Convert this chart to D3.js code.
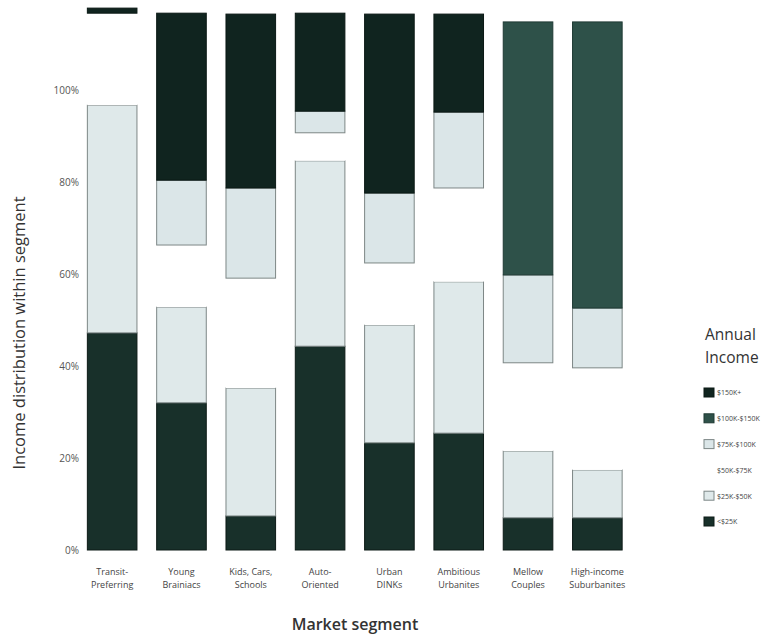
<!DOCTYPE html>
<html>
<head>
<meta charset="utf-8">
<script src="https://cdn.jsdelivr.net/npm/d3@7"></script>
<style>
  body { margin: 0; background: #fff; }
  svg { display: block; font-family: "Open Sans", "Noto Sans", sans-serif; }
</style>
</head>
<body>
<svg id="chart" width="763" height="639"></svg>
<script>
// market segments (two-line labels)
const segments = [
  ['Transit-', 'Preferring'],
  ['Young', 'Brainiacs'],
  ['Kids, Cars,', 'Schools'],
  ['Auto-', 'Oriented'],
  ['Urban', 'DINKs'],
  ['Ambitious', 'Urbanites'],
  ['Mellow', 'Couples'],
  ['High-income', 'Suburbanites']
];

// income bands, bottom of stack first
const bands = ['<$25K', '$25K-$50K', '$50K-$75K', '$75K-$100K', '$100K-$150K', '$150K+'];

// share of each band per segment (axis units)
const under25 = [47.2, 32.0, 7.4, 44.3, 23.3, 25.4, 7.0, 7.0];
const k25to50 = [49.5, 20.8, 27.8, 40.3, 25.6, 32.9, 14.5, 10.4];
const k50to75 = [20.0, 13.5, 23.9, 6.1, 13.5, 20.4, 19.2, 22.2];
const k75to100 = [0, 14.1, 19.6, 4.7, 15.2, 16.5, 19.1, 13.0];
const k100to150 = [0, 0, 0, 0, 0, 0, 55.0, 62.2];
const k150plus = [1.1, 36.3, 37.8, 21.3, 38.9, 21.3, 0, 0];

const yTicks = [0, 20, 40, 60, 80, 100];

const series = [under25, k25to50, k50to75, k75to100, k100to150, k150plus];
const colors = ['#18302a', '#dfe9ea', '#ffffff', '#dbe6e8', '#2e5149', '#10241f'];
const strokes = ['#0c1a16', '#7d8786', 'none', '#7d8786', '#1f3a34', '#0a1814'];

const svg = d3.select('#chart');

const rows = segments.map((s, i) => {
    const r = { key: i };
    bands.forEach((b, j) => r[b] = series[j][i]);
    return r;
});

const stack = d3.stack().keys(bands);
const layers = stack(rows);

const x = d3.scaleBand()
    .domain(d3.range(segments.length))
    .range([77.5, 632])
    .paddingInner(0.27)
    .paddingOuter(0.135);

const y = d3.scaleLinear()
    .domain([0, 100])
    .range([550, 90]);

// bars
svg.append('g')
    .selectAll('g.layer')
    .data(layers)
    .join('g')
        .attr('class', 'layer')
        .attr('fill', (d, i) => colors[i])
        .attr('stroke', (d, i) => strokes[i])
        .attr('stroke-width', 1)
    .selectAll('rect')
    .data(d => d.filter(p => p[1] - p[0] > 0))
    .join('rect')
        .attr('x', d => x(d.data.key) + 0.5)
        .attr('width', x.bandwidth() - 1)
        .attr('y', d => y(d[1]))
        .attr('height', d => y(d[0]) - y(d[1]));

// y tick labels (no axis line)
const yAxis = svg.append('g')
    .attr('transform', 'translate(79,0)')
    .call(d3.axisLeft(y).tickValues(yTicks).tickFormat(d => d + '%').tickSize(0).tickPadding(0));
yAxis.select('.domain').remove();
yAxis.selectAll('text')
    .attr('font-family', '"Open Sans", sans-serif')
    .attr('font-size', 10)
    .attr('fill', '#555');

// x labels
const xLabels = svg.append('g')
    .selectAll('text')
    .data(segments)
    .join('text')
        .attr('text-anchor', 'middle')
        .attr('font-size', 9)
        .attr('fill', '#444')
        .attr('transform', (d, i) => `translate(${x(i) + x.bandwidth() / 2},575)`);
xLabels.append('tspan').attr('x', 0).attr('dy', 0).text(d => d[0]);
xLabels.append('tspan').attr('x', 0).attr('dy', 13).text(d => d[1]);

// axis titles
svg.append('text')
    .attr('x', 355)
    .attr('y', 630)
    .attr('text-anchor', 'middle')
    .attr('font-size', 16)
    .attr('font-weight', 600)
    .attr('fill', '#333')
    .text('Market segment');

svg.append('text')
    .attr('transform', 'translate(25,333)rotate(-90)')
    .attr('text-anchor', 'middle')
    .attr('font-size', 16.5)
    .attr('fill', '#333')
    .text('Income distribution within segment');

// legend
const legend = svg.append('g').attr('transform', 'translate(705,0)');
legend.append('text')
    .attr('y', 340)
    .attr('font-size', 15.5)
    .attr('font-weight', 500)
    .attr('fill', '#333')
    .selectAll('tspan')
    .data(['Annual', 'Income'])
    .join('tspan')
        .attr('x', 0)
        .attr('dy', (d, i) => i === 0 ? 0 : 23)
        .text(d => d);

const legendRows = bands.slice().reverse();
const ly = d3.scalePoint().domain(legendRows).range([393, 522]);

const item = legend.selectAll('g.item')
    .data(legendRows)
    .join('g')
        .attr('class', 'item')
        .attr('transform', d => `translate(0,${ly(d)})`);

item.append('rect')
    .attr('x', -1)
    .attr('y', -5)
    .attr('width', 10)
    .attr('height', 9)
    .attr('fill', d => colors[bands.indexOf(d)])
    .attr('stroke', d => strokes[bands.indexOf(d)]);

item.append('text')
    .attr('x', 12)
    .attr('dy', '0.35em')
    .attr('font-size', 7)
    .attr('fill', '#444')
    .text(d => d);
</script>
</body>
</html>
